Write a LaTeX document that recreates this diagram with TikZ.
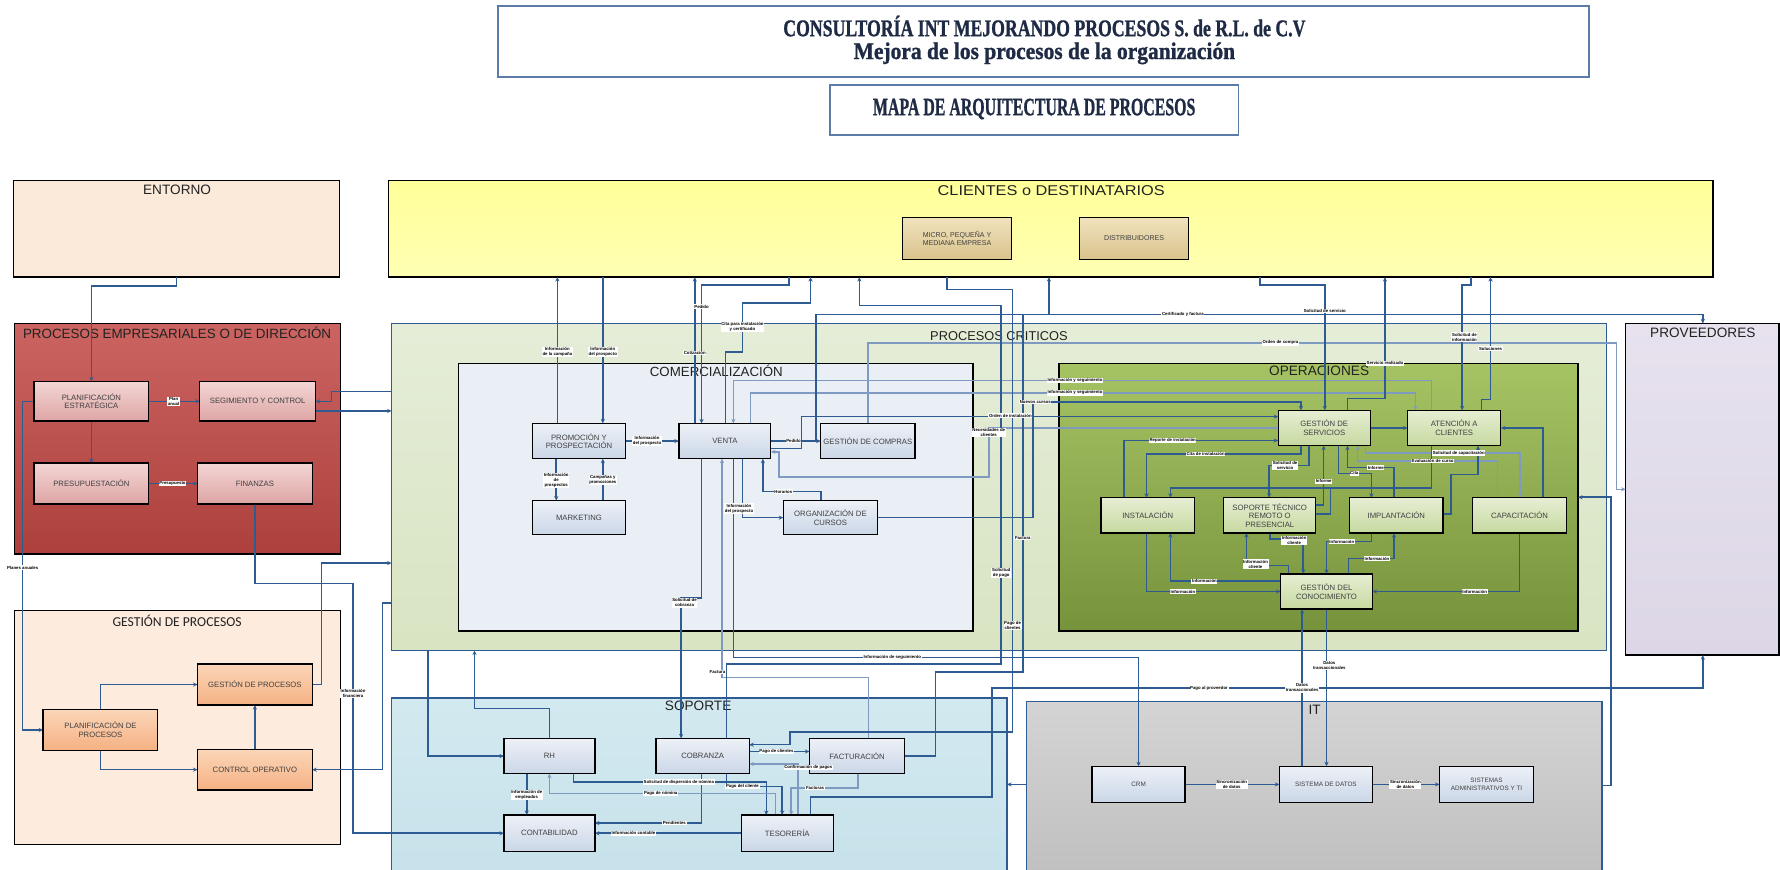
\documentclass[tikz,border=0pt]{standalone}
\usepackage{fontspec}
\setmainfont{Liberation Sans}
\newfontfamily\ttlfont{Liberation Serif}[BoldFeatures={FakeBold=1.2}]
\newfontfamily\carlito{Carlito}
\usepackage{graphicx}
\usetikzlibrary{arrows.meta}
\definecolor{lc}{HTML}{2F5B93}
\definecolor{lcl}{HTML}{7F9AC0}
\definecolor{titb}{HTML}{5B7BA8}
\definecolor{ttlc}{HTML}{1F2B45}
\definecolor{ntc}{HTML}{404040}
\definecolor{ctc}{HTML}{222222}
\definecolor{entf}{HTML}{FBE9DA}
\definecolor{cyt}{HTML}{FFFF99}
\definecolor{cyb}{HTML}{FFFFB3}
\definecolor{rct}{HTML}{CB6461}
\definecolor{rcb}{HTML}{AD403D}
\definecolor{gpf}{HTML}{FDEBDD}
\definecolor{crt}{HTML}{E5EDD8}
\definecolor{crb}{HTML}{D8E4C2}
\definecolor{cmf}{HTML}{EAEEF5}
\definecolor{opt}{HTML}{A6C364}
\definecolor{opb}{HTML}{76933C}
\definecolor{pvt}{HTML}{E7E2EE}
\definecolor{pvb}{HTML}{DCD6E6}
\definecolor{spt}{HTML}{D3E9F0}
\definecolor{spb}{HTML}{C6E1EA}
\definecolor{itt}{HTML}{D4D4D4}
\definecolor{itb}{HTML}{BEBEBE}
\definecolor{rnt}{HTML}{F3D6D5}
\definecolor{rnb}{HTML}{DDA5A4}
\definecolor{ont}{HTML}{FBD6B8}
\definecolor{onb}{HTML}{F5B183}
\definecolor{bnt}{HTML}{EDF1F7}
\definecolor{bnb}{HTML}{CAD6E7}
\definecolor{gnt}{HTML}{E6EED3}
\definecolor{gnb}{HTML}{C6D9A0}
\definecolor{tnt}{HTML}{F0E2BD}
\definecolor{tnb}{HTML}{D9C38C}
\pgfdeclarelayer{bg}
\pgfdeclarelayer{lines}
\pgfsetlayers{bg,lines,main}
\tikzset{
  sz/.style 2 args={minimum width=#1pt, minimum height=#2pt},
  cont/.style={draw=black, line width=1.3pt, inner sep=0pt, outer sep=0pt, anchor=north west},
  ctitle/.style={font=\fontsize{12}{13}\selectfont, text=ctc, inner sep=0pt},
  nd/.style={draw=black, line width=1.2pt, inner sep=1pt, outer sep=0pt, align=center, font=\fontsize{6.8}{7.6}\selectfont, text=ntc},
  rednd/.style={nd, top color=rnt, bottom color=rnb},
  orgnd/.style={nd, top color=ont, bottom color=onb},
  blund/.style={nd, top color=bnt, bottom color=bnb},
  grnnd/.style={nd, top color=gnt, bottom color=gnb},
  tannd/.style={nd, top color=tnt, bottom color=tnb, font=\fontsize{6.2}{7.2}\selectfont},
  itnd/.style={blund, font=\fontsize{5.6}{6.8}\selectfont},
  ln/.style={draw=lc, line width=1.35pt},
  lnl/.style={draw=lcl, line width=1.35pt},
  ar/.style={ln, -{Stealth[length=4pt,width=3.6pt]}},
  arl/.style={lnl, -{Stealth[length=4pt,width=3.6pt]}},
  lbl/.style={fill=white, inner sep=0.6pt, align=center, font=\fontsize{3.8}{4.3}\selectfont\bfseries, text=black},
}
\begin{document}
\begin{tikzpicture}[x=1pt,y=-1pt]
\useasboundingbox (0,0) rectangle (1568,766);
\begin{pgfonlayer}{bg}
\fill[white] (0,0) rectangle (1568,766);
\node[cont, draw=titb, line width=1.6pt, fill=white, sz={961}{63}] (ttl1) at (439,5) {};
\node[cont, draw=titb, line width=1.6pt, fill=white, sz={360}{44}] (ttl2) at (731,75) {};
\node[cont, fill=entf, sz={287}{85}] (entorno) at (12,159) {};
\node[cont, top color=cyt, bottom color=cyb, sz={1167}{85}] (clientes) at (342,159) {};
\node[cont, top color=rct, bottom color=rcb, sz={287}{203}] (empres) at (13,285) {};
\node[cont, fill=gpf, sz={287}{206}] (gproc) at (13,538) {};
\node[cont, draw=lc, top color=crt, bottom color=crb, sz={1070}{288}] (crit) at (345,285) {};
\node[cont, fill=cmf, sz={453}{236}] (comerc) at (404,320) {};
\node[cont, top color=opt, bottom color=opb, sz={457}{236}] (oper) at (933,320) {};
\node[cont, top color=pvt, bottom color=pvb, sz={135}{292}] (prov) at (1432,285) {};
\node[cont, draw=lc, top color=spt, bottom color=spb, sz={542}{165}] (soporte) at (345,615) {};
\node[cont, draw=lc, top color=itt, bottom color=itb, sz={507}{165}] (it) at (904,618) {};
\node[inner sep=0pt, text=ttlc] (ttl1a) at (920,23) {\resizebox{460pt}{\height}{\ttlfont\bfseries\fontsize{21}{21}\selectfont CONSULTORÍA INT MEJORANDO PROCESOS S. de R.L. de C.V}};
\node[inner sep=0pt, text=ttlc] (ttl1b) at (920,47) {\resizebox{336pt}{\height}{\ttlfont\bfseries\fontsize{21}{21}\selectfont Mejora de los procesos de la organización}};
\node[inner sep=0pt, text=ttlc] (ttl2a) at (911,96) {\resizebox{284pt}{\height}{\ttlfont\bfseries\fontsize{22}{22}\selectfont MAPA DE ARQUITECTURA DE PROCESOS}};
\node[ctitle] (t_ent) at (156,167) {ENTORNO};
\node[ctitle] (t_cli) at (926,168) {\resizebox{200pt}{\height}{\fontsize{12.5}{13}\selectfont CLIENTES o DESTINATARIOS}};
\node[ctitle, font=\fontsize{11.8}{13}\selectfont] (t_emp) at (156,293) {PROCESOS EMPRESARIALES O DE DIRECCIÓN};
\node[ctitle, font=\fontsize{12}{13}\carlito] (t_gp) at (156,547) {GESTIÓN DE PROCESOS};
\node[ctitle, font=\fontsize{11.3}{13}\selectfont] (t_crit) at (880,296) {PROCESOS CRITICOS};
\node[ctitle, font=\fontsize{11.7}{13}\selectfont] (t_com) at (631,327) {COMERCIALIZACIÓN};
\node[ctitle] (t_op) at (1162,327) {OPERACIONES};
\node[ctitle] (t_prov) at (1500,293) {PROVEEDORES};
\node[ctitle] (t_sop) at (615,622) {SOPORTE};
\node[ctitle] (t_it) at (1158,625) {IT};
\end{pgfonlayer}

% process nodes
\node[tannd, sz={96}{37}] (micro) at (843,210) {MICRO, PEQUEÑA Y\\MEDIANA EMPRESA};
\node[tannd, sz={96}{37}] (distr) at (999,210) {DISTRIBUIDORES};
\node[rednd, sz={101}{35}] (plan_est) at (80.5,353.5) {PLANIFICACIÓN\\ESTRATÉGICA};
\node[rednd, sz={102}{35}] (seg) at (227,353.5) {SEGIMIENTO Y CONTROL};
\node[rednd, sz={101}{36}] (presup) at (80.5,426) {PRESUPUESTACIÓN};
\node[rednd, sz={101}{36}] (fin) at (224.5,426) {FINANZAS};
\node[orgnd, sz={101}{36}] (plan_proc) at (88.5,643) {PLANIFICACIÓN DE\\PROCESOS};
\node[orgnd, sz={101}{36}] (gest_proc) at (224.5,603) {GESTIÓN DE PROCESOS};
\node[orgnd, sz={101}{36}] (ctrl_op) at (224.5,678) {CONTROL OPERATIVO};
\node[blund, sz={82}{31}] (promo) at (510,388.5) {PROMOCIÓN Y\\PROSPECTACIÓN};
\node[blund, sz={81}{31}] (venta) at (638.5,388.5) {VENTA};
\node[blund, sz={83}{31}] (compras) at (764.5,388.5) {GESTIÓN DE COMPRAS};
\node[blund, sz={82}{30}] (mkt) at (510,456) {MARKETING};
\node[blund, sz={83}{30}] (cursos) at (731.5,456) {ORGANIZACIÓN DE\\CURSOS};
\node[grnnd, sz={81}{31}] (gserv) at (1166.5,377) {GESTIÓN DE\\SERVICIOS};
\node[grnnd, sz={82}{31}] (atc) at (1281,377) {ATENCIÓN A\\CLIENTES};
\node[grnnd, sz={82}{31}] (inst) at (1011,454) {INSTALACIÓN};
\node[grnnd, sz={81}{31}] (stec) at (1118.5,454) {SOPORTE TÉCNICO\\REMOTO O\\PRESENCIAL};
\node[grnnd, sz={82}{31}] (impl) at (1230,454) {IMPLANTACIÓN};
\node[grnnd, sz={83}{31}] (capac) at (1338.5,454) {CAPACITACIÓN};
\node[grnnd, sz={81}{31}] (gcon) at (1168.5,521) {GESTIÓN DEL\\CONOCIMIENTO};
\node[blund, sz={80}{31}] (rh) at (484,666) {RH};
\node[blund, sz={82}{31}] (cobr) at (619,666) {COBRANZA};
\node[blund, sz={84}{31}] (fact) at (755,666) {FACTURACIÓN};
\node[blund, sz={80}{32}] (conta) at (484,734) {CONTABILIDAD};
\node[blund, sz={81}{32}] (teso) at (693.5,734) {TESORERÍA};
\node[itnd, sz={82}{32}] (crm) at (1003,691) {CRM};
\node[itnd, sz={82}{32}] (sdatos) at (1168,691) {SISTEMA DE DATOS};
\node[itnd, sz={83}{32}] (sadm) at (1309.5,691) {SISTEMAS\\ADMINISTRATIVOS Y TI};

\begin{pgfonlayer}{lines}
% direccion / gestion de procesos
\draw[ar] (entorno.south) -- ++(0,8) -| (plan_est.north);
\draw[ar] (plan_est) -- (seg);
\draw[ar] (plan_est) -- (presup);
\draw[ar] (presup) -- (fin);
\draw[ar] (plan_est.west) -- ++(-10,0) |- (plan_proc.west);
\draw[ar] (crit.west |- 0,345) -- (292,345) |- (seg.east);
\draw[ar] (seg.east |- 0,362) -- (crit.west |- 0,362);
\draw[ar] (fin.south) -- (224.5,514) -| (311,734) -- (conta.west);
\draw[ar] (plan_proc.north) |- (gest_proc.west);
\draw[ar] (plan_proc.south) |- (ctrl_op.west);
\draw[ar] (ctrl_op) -- (gest_proc);
\draw[ar] (gest_proc.east) -| (283,496) -- (crit.west |- 0,496);
\draw[ar] (crit.west |- 0,531) -| (337,678) -- (ctrl_op.east);
% comercializacion
\draw[ar] (491,0 |- promo.north) -- (491,0 |- clientes.south);
\draw[ar] (531,0 |- clientes.south) -- (531,0 |- promo.north);
\draw[ar] (promo) -- (venta);
\draw[ar] (490,0 |- promo.south) -- (490,0 |- mkt.north);
\draw[ar] (531,0 |- mkt.north) -- (531,0 |- promo.south);
\draw[ar] (612,0 |- venta.north) -- (612,0 |- clientes.south);
\draw[ar] (695,0 |- clientes.south) -- (695,251) -- (618,251) -- (618,0 |- venta.north);
\draw[ar] (639,0 |- venta.north) -- (639,310) -- (654,310) -- (654,267) -- (714,267) -- (714,0 |- clientes.south);
\draw[arl] (1261,0 |- atc.north) -- (1261,335) -- (646,335) -- (646,0 |- venta.north);
\draw[arl] (661,0 |- venta.north) -- (661,346) -- (1247,346) -- (1247,0 |- atc.north);
\draw[ar] (venta) -- (compras);
\draw[ar] (719,0 |- venta.east) -- (719,277) -- (1500,277) -- (1500,0 |- prov.north);
\draw[arl] (compras.north) -- (764.5,302) -- (1424,302) -- (1424,431) -- (prov.west |- 0,431);
\draw[ar] (venta.east |- 0,395) -- (706,395) -- (706,367) -- (gserv.west |- 0,367);
\draw[arl] (gserv.west) -- (871,377) -- (871,420) -- (686,420) -- (686,398) -- (venta.east |- 0,398);
\draw[ar] (cursos.east) -- (910,456) -- (910,354) -- (1146,354) -- (1146,0 |- gserv.north);
\draw[ar] (654,0 |- venta.south) -- (654,456) -- (cursos.west);
\draw[ar] (723,0 |- cursos.north) -- (723,433) -- (672,433) -- (672,0 |- venta.south);
\draw[ar] (618,0 |- venta.south) -- (618,527) -- (600,527) -- (600,0 |- cobr.north);
\draw[arl] (765,0 |- fact.north) -- (765,597) -- (636,597) -- (636,0 |- venta.south);
\draw[ar] (646,0 |- venta.south) -- (646,579) -- (1003,579) -- (crm.north);
\draw[ar] (640,0 |- cobr.north) -- (640,585) -- (882,585) -- (882,269) -- (757,269) -- (757,0 |- clientes.south);
\draw[ar] (834,0 |- clientes.south) -- (834,255) -- (892,255) -- (892,645) -- (696,645) -- (696,656) -- (cobr.east |- 0,656);
\draw[ar] (fact.east) -- (824,666) -- (824,592) -- (901,592) -- (901,277) -- (924,277) -- (924,0 |- clientes.south);
\draw[ar] (714,0 |- teso.north) -- (714,702) -- (874,702) -- (874,606) -- (1500,606) -- (1500,0 |- prov.south);
\draw[ar] (it.west |- 0,691) -- (soporte.east |- 0,691);
\draw[ar] (it.east |- 0,692) -- (1419,692) -- (1419,438) -- (oper.east |- 0,438);
% soporte
\draw[ar] (377,0 |- crit.south) -- (377,666) -- (rh.west);
\draw[ar] (rh.north) -- (484,624) -- (418,624) -- (418,0 |- crit.south);
\draw[ar] (464,0 |- rh.south) -- (464,0 |- conta.north);
\draw[ar] (cobr.east |- 0,662) -- (fact.west |- 0,662);
\draw[arl] (703,0 |- teso.north) -- (703,673) -- (cobr.east |- 0,673);
\draw[ar] (618,0 |- cobr.south) -- (618,725) -- (conta.east |- 0,725);
\draw[ar] (teso.west) -- (conta.east);
\draw[ar] (505,0 |- rh.south) -- (505,689) -- (675,689) -- (675,0 |- teso.north);
\draw[arl] (683,0 |- teso.north) -- (683,699) -- (484,699) -- (rh.south);
\draw[ar] (640,0 |- cobr.south) -- (640,693) -- (689,693) -- (689,0 |- teso.north);
\draw[arl] (756,0 |- fact.south) -- (756,694) -- (697,694) -- (697,0 |- teso.north);
% operaciones
\draw[ar] (gserv) -- (atc);
\draw[ar] (1359,0 |- capac.north) -- (1359,377) -- (atc.east);
\draw[ar] (1110,0 |- clientes.south) -- (1110,251) -- (1167,251) -- (1167,0 |- gserv.north);
\draw[ar] (1187,0 |- gserv.north) -- (1187,351) -- (1220,351) -- (1220,0 |- clientes.south);
\draw[ar] (1296,0 |- clientes.south) -- (1296,251) -- (1288,251) -- (1288,0 |- atc.north);
\draw[ar] (1305,0 |- atc.north) -- (1305,352) -- (1313,352) -- (1313,0 |- clientes.south);
\draw[ar] (990,0 |- inst.north) -- (990,388) -- (gserv.west |- 0,388);
\draw[ar] (1146,0 |- gserv.south) -- (1146,400) -- (1010,400) -- (1010,0 |- inst.north);
\draw[ar] (1153,0 |- gserv.south) -- (1153,410) -- (1118,410) -- (1118,0 |- stec.north);
\draw[ar] (stec.east |- 0,445) -- (1166,445) -- (1166,0 |- gserv.south);
\draw[ar] (1179,0 |- gserv.south) -- (1179,417) -- (1208,417) -- (1208,0 |- impl.north);
\draw[ar] (1228,0 |- impl.north) -- (1228,412) -- (1187,412) -- (1187,0 |- gserv.south);
\draw[arl] (1203,0 |- gserv.south) -- (1203,399) -- (1339,399) -- (1339,0 |- capac.north);
\draw[arl] (1319,0 |- capac.north) -- (1319,406) -- (1196,406) -- (1196,0 |- gserv.south);
\draw[ar] (1261,0 |- atc.south) -- (1261,430) -- (1031,430) -- (1031,0 |- inst.north);
\draw[ln] (stec.east |- 0,453) -- (1172,453) -- (1172,430);
\draw[ar] (impl.east |- 0,453) -- (1278,453) -- (1278,418) -- (1302,418) -- (1302,0 |- atc.south);
\draw[ar] (1010,0 |- inst.south) -- (1010,521) -- (gcon.west);
\draw[ar] (gcon.west |- 0,512) -- (1031,512) -- (1031,0 |- inst.south);
\draw[ar] (1135,0 |- gcon.north) -- (1135,498) -- (1098,498) -- (1098,0 |- stec.south);
\draw[ar] (stec.south) -- (1118.5,475) -- (1148,475) -- (1148,0 |- gcon.north);
\draw[ar] (1208,0 |- impl.south) -- (1208,477) -- (1168.5,477) -- (gcon.north);
\draw[ar] (1188,0 |- gcon.north) -- (1188,492) -- (1228,492) -- (1228,0 |- impl.south);
\draw[ar] (capac.south) -- (1338.5,521) -- (gcon.east);
% IT
\draw[ar] (gcon.south) -- (1168.5,0 |- sdatos.north);
\draw[ar] (1147,0 |- sdatos.north) -- (1147,0 |- gcon.south);
\draw[ar] (crm) -- (sdatos);
\draw[ar] (sdatos) -- (sadm);
\end{pgfonlayer}

% labels
\node[lbl] (l_plan) at (153,353.5) {Plan\\anual};
\node[lbl] (l_pres) at (152,426) {Presupuesto};
\node[lbl] (l_planes) at (20,500) {Planes anuales};
\node[lbl] (l_infofin) at (311,611) {Información\\financiera};
\node[lbl] (l_camp) at (491,310) {Información\\de la campaña};
\node[lbl] (l_pros1) at (531,310) {Información\\del prospecto};
\node[lbl] (l_pros2) at (570,388.5) {Información\\del prospecto};
\node[lbl] (l_pros3) at (490,423) {Información\\de\\prospectos};
\node[lbl] (l_promo) at (531,423) {Campañas y\\promociones};
\node[lbl] (l_cot) at (612,311) {Cotización};
\node[lbl] (l_ped1) at (618,270) {Pedido};
\node[lbl] (l_cita) at (654,288) {Cita para instalación\\y certificado};
\node[lbl] (l_ped2) at (699,388.5) {Pedido};
\node[lbl] (l_pros4) at (651,448) {Información\\del prospecto};
\node[lbl] (l_hor) at (690,433) {Horarios};
\node[lbl] (l_solcob) at (603,531) {Solicitud de\\cobranza};
\node[lbl] (l_fac1) at (632,592) {Factura};
\node[lbl] (l_seg) at (786,579) {Información de seguimiento};
\node[lbl] (l_solpag) at (882,505) {Solicitud\\de pago};
\node[lbl] (l_fac2) at (901,474) {Factura};
\node[lbl] (l_pagcli) at (892,551) {Pago de\\clientes};
\node[lbl] (l_cert) at (1042,277) {Certificado y factura};
\node[lbl] (l_solserv) at (1167,274) {Solicitud de servicio};
\node[lbl] (l_orden) at (1128,302) {Orden de compra};
\node[lbl] (l_servr) at (1220,320) {Servicio realizado};
\node[lbl] (l_solinf) at (1290,297) {Solicitud de\\información};
\node[lbl] (l_soluc) at (1313,307) {Soluciones};
\node[lbl] (l_iys1) at (947,335) {Información y seguimiento};
\node[lbl] (l_iys2) at (947,346) {Información y seguimiento};
\node[lbl] (l_nuev) at (912,354) {Nuevos cursos};
\node[lbl] (l_ordi) at (890,366) {Orden de instalación};
\node[lbl] (l_nec) at (871,381) {Necesidades de\\clientes};
\node[lbl] (l_rep) at (1033,388) {Reporte de instalación};
\node[lbl] (l_citi) at (1062,400) {Cita de instalación};
\node[lbl] (l_sols2) at (1132,410) {Solicitud de\\servicio};
\node[lbl] (l_inf1) at (1166,424) {Informe};
\node[lbl] (l_cita2) at (1193,417) {Cita};
\node[lbl] (l_inf2) at (1212,412) {Informe};
\node[lbl] (l_solcap) at (1285,399) {Solicitud de capacitación};
\node[lbl] (l_eval) at (1262,406) {Evaluación de curso};
\node[lbl] (l_i1) at (1042,521) {Información};
\node[lbl] (l_i2) at (1061,512) {Información};
\node[lbl] (l_ic1) at (1106,497) {Información\\cliente};
\node[lbl] (l_ic2) at (1140,476) {Información\\cliente};
\node[lbl] (l_i3) at (1182,477) {Información};
\node[lbl] (l_i4) at (1213,492) {Información};
\node[lbl] (l_i5) at (1299,521) {Información};
\node[lbl] (l_dat1) at (1171,586) {Datos\\transaccionales};
\node[lbl] (l_dat2) at (1147,606) {Datos\\transaccionales};
\node[lbl] (l_sin1) at (1085,691) {Sincronización\\de datos};
\node[lbl] (l_sin2) at (1238,691) {Sincronización\\de datos};
\node[lbl] (l_emp) at (464,700) {Información de\\empleados};
\node[lbl] (l_pagc) at (684,662) {Pago de clientes};
\node[lbl] (l_conf) at (712,676) {Confirmación de pagos};
\node[lbl] (l_pend) at (594,725) {Pendientes};
\node[lbl] (l_cont) at (558,734) {Información contable};
\node[lbl] (l_disp) at (598,689) {Solicitud de dispersión de nómina};
\node[lbl] (l_nom) at (582,699) {Pago de nómina};
\node[lbl] (l_pagcl) at (654,693) {Pago del cliente};
\node[lbl] (l_facs) at (718,694) {Facturas};
\node[lbl] (l_pprov) at (1065,606) {Pago al proveedor};
\end{tikzpicture}
\end{document}
